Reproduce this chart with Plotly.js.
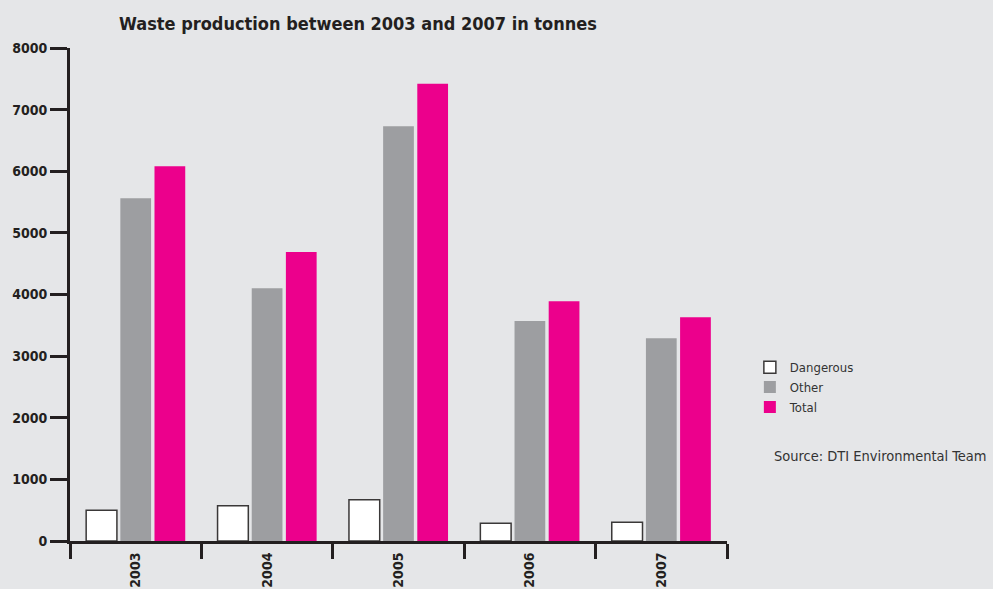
<!DOCTYPE html>
<html>
<head>
<meta charset="utf-8">
<script src="https://cdn.plot.ly/plotly-3.0.1.min.js"></script>
<style>
  html, body { margin: 0; padding: 0; background: #e5e6e8; }
  #chart { width: 993px; height: 589px; }
</style>
</head>
<body>
<div id="chart"></div>
<script>
// Waste production per year, in tonnes
const years = ["2003", "2004", "2005", "2006", "2007"];
const dangerous = [500, 570, 670, 290, 305];
const other = [5560, 4100, 6730, 3570, 3290];
const total = [6080, 4690, 7420, 3890, 3630];
const yTicks = [0, 1000, 2000, 3000, 4000, 5000, 6000, 7000, 8000];

const FONT = "'Liberation Sans Narrow', 'DejaVu Sans Condensed', 'Arial Narrow', sans-serif";
const INK = "#231f20";

const traces = [
  {
    type: "bar", name: "Dangerous", x: years, y: dangerous,
    marker: { color: "#ffffff", line: { color: "#3a3838", width: 1.5 } }
  },
  {
    type: "bar", name: "Other", x: years, y: other,
    marker: { color: "#9d9ea1", line: { width: 0 } }
  },
  {
    type: "bar", name: "Total", x: years, y: total,
    marker: { color: "#ec008c", line: { width: 0 } }
  }
];

const layout = {
  width: 993, height: 589,
  paper_bgcolor: "#e5e6e8",
  plot_bgcolor: "#e5e6e8",
  margin: { l: 70, r: 266, t: 48, b: 48 },
  font: { family: FONT, color: INK },
  barmode: "group",
  bargap: 0.22,
  bargroupgap: 0.1,
  showlegend: true,
  hovermode: false,
  title: {
    text: "<b>Waste production between 2003 and 2007 in tonnes</b>",
    font: { family: FONT, size: 18, color: INK },
    x: 0.3605, xref: "container", xanchor: "center",
    y: 0.959, yref: "container", yanchor: "middle"
  },
  xaxis: {
    type: "category",
    showgrid: false, zeroline: false,
    showline: true, linecolor: INK, linewidth: 3,
    ticks: "outside", tickson: "boundaries",
    ticklen: 15, tickwidth: 3, tickcolor: INK,
    tickangle: -90,
    ticklabelstandoff: 3,
    tickfont: { family: FONT, size: 14, color: INK, weight: "bold" }
  },
  yaxis: {
    range: [0, 8000],
    tickvals: yTicks,
    ticktext: yTicks.map(String),
    showgrid: false, zeroline: false,
    showline: true, linecolor: INK, linewidth: 3,
    ticks: "outside", ticklen: 17, tickwidth: 3, tickcolor: INK,
    tickfont: { family: FONT, size: 14, color: INK, weight: "bold" }
  },
  legend: {
    x: 1.0348, xanchor: "left",
    y: 0.383, yanchor: "top",
    bgcolor: "rgba(0,0,0,0)",
    font: { family: FONT, size: 13, color: "#333333" },
    tracegroupgap: 0,
    itemclick: false
  },
  annotations: [
    {
      text: "Source: DTI Environmental Team",
      xref: "paper", yref: "paper",
      x: 1.069, y: (541 - 456) / 493,
      xanchor: "left", yanchor: "middle",
      showarrow: false,
      font: { family: FONT, size: 14.5, color: "#333333" }
    }
  ]
};

Plotly.newPlot("chart", traces, layout, { displayModeBar: false, staticPlot: true });
</script>
</body>
</html>
